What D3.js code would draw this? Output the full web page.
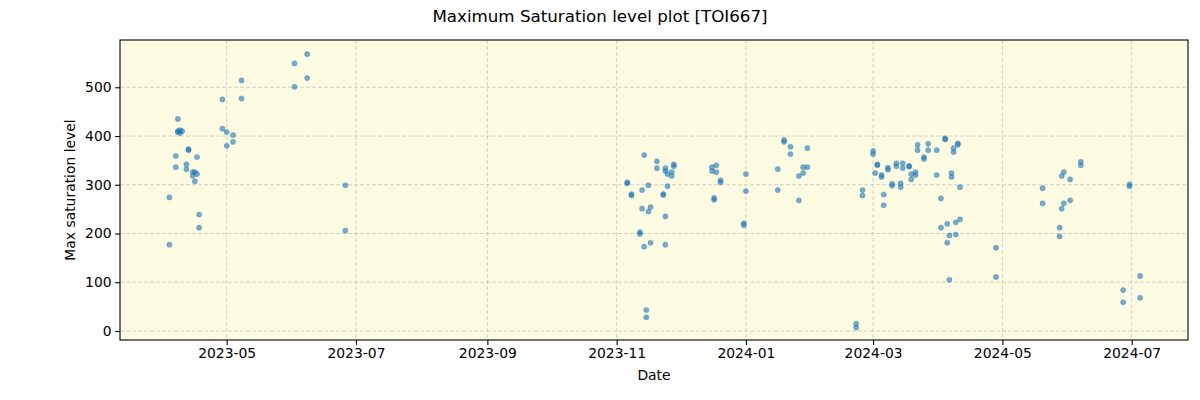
<!DOCTYPE html>
<html>
<head>
<meta charset="utf-8">
<script src="https://cdn.jsdelivr.net/npm/d3@7"></script>
<style>
  body { margin: 0; background: #fff; }
  text { font-family: "DejaVu Sans", sans-serif; }
</style>
</head>
<body>
<svg id="chart" width="1200" height="400"></svg>
<script>
const chartTitle = "Maximum Saturation level plot [TOI667]";
const xLabel = "Date";
const yLabel = "Max saturation level";

const obsDates = [
  "2023-04-04","2023-04-04","2023-04-07","2023-04-07","2023-04-08","2023-04-08","2023-04-08",
  "2023-04-09","2023-04-09","2023-04-10","2023-04-12","2023-04-12","2023-04-13","2023-04-13",
  "2023-04-15","2023-04-15","2023-04-16","2023-04-16","2023-04-17","2023-04-17","2023-04-18","2023-04-18",
  "2023-04-29","2023-04-29","2023-05-01","2023-05-01","2023-05-04","2023-05-04","2023-05-08","2023-05-08",
  "2023-06-02","2023-06-02","2023-06-08","2023-06-08","2023-06-26","2023-06-26",
  "2023-11-06","2023-11-06","2023-11-08","2023-11-08","2023-11-12","2023-11-12","2023-11-13","2023-11-13",
  "2023-11-14","2023-11-14","2023-11-15","2023-11-15","2023-11-16","2023-11-16","2023-11-17","2023-11-17",
  "2023-11-20","2023-11-20","2023-11-23","2023-11-23","2023-11-24","2023-11-24","2023-11-24","2023-11-24",
  "2023-11-25","2023-11-25","2023-11-27","2023-11-27","2023-11-28","2023-11-28",
  "2023-12-16","2023-12-16","2023-12-18","2023-12-18","2023-12-17","2023-12-17","2023-12-20","2023-12-20",
  "2023-12-31","2023-12-31",
  "2024-01-01","2024-01-01","2024-01-16","2024-01-16","2024-01-19","2024-01-19","2024-01-22","2024-01-22",
  "2024-01-26","2024-01-26","2024-01-28","2024-01-28","2024-01-30","2024-01-30",
  "2024-02-22","2024-02-22","2024-02-25","2024-02-25",
  "2024-03-01","2024-03-01","2024-03-02","2024-03-03","2024-03-03","2024-03-05","2024-03-05",
  "2024-03-06","2024-03-06","2024-03-08","2024-03-08","2024-03-10","2024-03-10","2024-03-12","2024-03-12",
  "2024-03-14","2024-03-14","2024-03-15","2024-03-15","2024-03-18","2024-03-18","2024-03-19","2024-03-19",
  "2024-03-21","2024-03-21","2024-03-22","2024-03-22","2024-03-25","2024-03-25","2024-03-27","2024-03-27",
  "2024-03-31","2024-03-31",
  "2024-04-02","2024-04-02","2024-04-04","2024-04-04","2024-04-05","2024-04-05","2024-04-06","2024-04-06",
  "2024-04-07","2024-04-07","2024-04-08","2024-04-08","2024-04-09","2024-04-09","2024-04-10","2024-04-10",
  "2024-04-11","2024-04-11","2024-04-28","2024-04-28",
  "2024-05-20","2024-05-20","2024-05-28","2024-05-28","2024-05-29","2024-05-29","2024-05-30","2024-05-30",
  "2024-06-02","2024-06-02","2024-06-07","2024-06-07","2024-06-27","2024-06-27","2024-06-30","2024-06-30",
  "2024-07-05","2024-07-05"
];

const maxSaturation = [
  274,177,359,336,435,410,408,
  412,406,410,342,332,373,371,
  326,318,326,307,357,322,239,212,
  475,415,408,380,402,388,514,477,
  549,501,568,519,299,206,
  305,303,281,278,203,199,289,251,
  361,173,43,28,299,245,254,181,
  348,334,281,279,334,328,235,177,
  322,297,326,318,342,338,
  336,328,340,326,273,269,309,305,
  221,217,
  322,287,332,289,392,388,378,363,
  318,268,336,324,375,336,
  15,7,289,278,
  369,363,324,342,340,320,316,
  280,258,335,331,302,298,344,338,
  303,295,344,334,339,337,322,311,
  326,320,382,371,357,353,384,371,
  371,320,
  272,212,395,393,220,181,196,105,
  324,316,375,367,198,223,385,382,
  295,229,171,111,
  293,262,212,194,318,251,326,262,
  311,268,347,340,84,59,301,297,
  113,68
];

const xTickDates = ["2023-05-01","2023-07-01","2023-09-01","2023-11-01","2024-01-01","2024-03-01","2024-05-01","2024-07-01"];
const yTickValues = [0, 100, 200, 300, 400, 500];

const parse = d3.utcParse("%Y-%m-%d");
const svg = d3.select("#chart");
const L = 120, R = 1188, T = 40, B = 340;

const x = d3.scaleUtc()
  .domain([new Date(Date.UTC(2023, 2, 11, 16)), new Date(Date.UTC(2024, 6, 27, 14))])
  .range([L, R]);
const y = d3.scaleLinear().domain([-18.5, 597]).range([B, T]);

svg.append("rect").attr("x", L).attr("y", T).attr("width", R - L).attr("height", B - T)
  .attr("fill", "#fdfbe2");

// grid
const g = svg.append("g");
g.selectAll(".vg").data(xTickDates.map(parse)).enter().append("line")
  .attr("x1", d => x(d)).attr("x2", d => x(d)).attr("y1", T).attr("y2", B)
  .attr("stroke", "#b0b0b0").attr("stroke-opacity", 0.55).attr("stroke-width", 1)
  .attr("stroke-dasharray", "4,2");
g.selectAll(".hg").data(yTickValues).enter().append("line")
  .attr("x1", L).attr("x2", R).attr("y1", d => y(d)).attr("y2", d => y(d))
  .attr("stroke", "#b0b0b0").attr("stroke-opacity", 0.55).attr("stroke-width", 1)
  .attr("stroke-dasharray", "4,2");

// points
const pts = obsDates.map((d, i) => ({ date: parse(d), value: maxSaturation[i] }));
svg.append("g").selectAll("circle").data(pts).enter().append("circle")
  .attr("cx", d => x(d.date)).attr("cy", d => y(d.value)).attr("r", 2.6)
  .attr("fill", "#1f77b4").attr("fill-opacity", 0.6)
  .attr("stroke", "#1f77b4").attr("stroke-opacity", 0.6).attr("stroke-width", 0.5);

// frame
svg.append("rect").attr("x", L).attr("y", T).attr("width", R - L).attr("height", B - T)
  .attr("fill", "none").attr("stroke", "#000").attr("stroke-width", 1.1);

// axes
const fmt = d3.utcFormat("%Y-%m");
const xAxis = d3.axisBottom(x).tickValues(xTickDates.map(parse)).tickFormat(fmt)
  .tickSize(4.9).tickPadding(3.5);
const xa = svg.append("g").attr("transform", `translate(0,${B})`).call(xAxis);
const yAxis = d3.axisLeft(y).tickValues(yTickValues).tickSize(4.9).tickPadding(3.5);
const ya = svg.append("g").attr("transform", `translate(${L},0)`).call(yAxis);
[xa, ya].forEach(a => {
  a.select(".domain").remove();
  a.selectAll("text").attr("font-size", "13.9px").attr("fill", "#000")
    .attr("font-family", "DejaVu Sans, sans-serif");
  a.selectAll("line").attr("stroke", "#000").attr("stroke-width", 1.1);
});

svg.append("text").attr("x", 600).attr("y", 22).attr("text-anchor", "middle")
  .attr("font-size", "16.7px").text(chartTitle);
svg.append("text").attr("x", (L + R) / 2).attr("y", 380).attr("text-anchor", "middle")
  .attr("font-size", "13.9px").text(xLabel);
svg.append("text").attr("transform", `translate(75,${(T + B) / 2}) rotate(-90)`)
  .attr("text-anchor", "middle").attr("font-size", "13.9px").text(yLabel);
</script>
</body>
</html>
